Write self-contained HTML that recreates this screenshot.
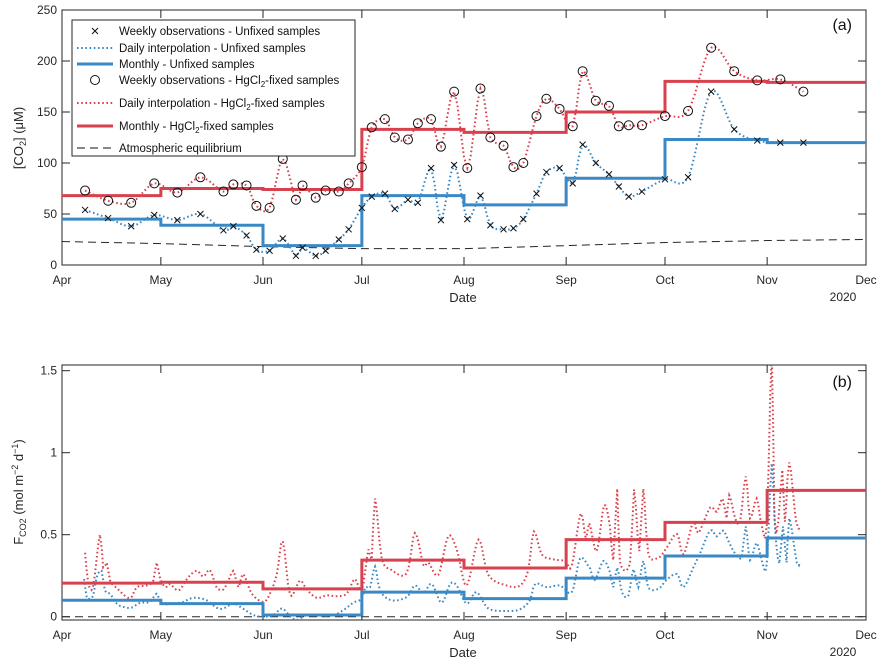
<!DOCTYPE html>
<html><head><meta charset="utf-8"><style>
html,body{margin:0;padding:0;background:#fff;}
svg{display:block;font-family:"Liberation Sans",Arial,sans-serif;}
</style></head><body>
<svg id="chart" width="889" height="666" viewBox="0 0 889 666" xmlns="http://www.w3.org/2000/svg">
<defs>
<clipPath id="clipA"><rect x="62" y="10" width="804" height="255"/></clipPath>
<clipPath id="clipB"><rect x="62" y="365" width="804" height="255"/></clipPath>
</defs>
</svg>
<script>
// ---------- DATA ----------
const monthLabels = ["Apr","May","Jun","Jul","Aug","Sep","Oct","Nov","Dec"];
const monthStartDays = [0,30,61,91,122,153,183,214,244];
const yTicksA = [0,50,100,150,200,250];
const yTicksB = [0,0.5,1,1.5];
const yTickLabelsB = ["0","0.5","1","1.5"];
const obsDays = [7,14,21,28,35,42,49,52,56,59,63,67,71,73,77,80,84,87,91,94,98,101,105,108,112,115,119,123,127,130,134,137,140,144,147,151,155,158,162,166,169,172,176,183,190,197,204,211,218,225];
const obsUnfixed = [54,46,38,49,44,50,34,38,29,15,14,26,9,17,9,14,25,35,56,67,70,55,64,61,95,44,98,45,68,39,35,36,45,70,91,95,80,118,100,89,77,67,72,84,86,170,133,122,120,120];
const obsFixed = [73,63,61,80,71,86,72,79,78,58,56,104,64,78,66,73,72,80,96,135,143,125,123,139,143,116,170,95,173,125,117,96,100,146,163,153,136,190,161,156,136,137,137,146,151,213,190,181,182,170];
const monthlyUnfixed = [45,39,19,68,59,85,123,120];
const monthlyFixed = [68,75,74,133,130,150,180,179];
const atmEquilibrium = [23,21,18,16,16,19,22,24,25];
const fluxMonthlyUnfixed = [0.10,0.08,0.01,0.15,0.11,0.235,0.37,0.48];
const fluxMonthlyFixed = [0.205,0.21,0.17,0.345,0.297,0.47,0.575,0.77];
const fluxDailyFixed = [[7,0.39],[8,0.20],[9.5,0.19],[11.5,0.50],[12.5,0.30],[13.6,0.33],[14.6,0.22],[16.6,0.175],[19.6,0.12],[21.1,0.12],[22.7,0.18],[25.7,0.19],[27.7,0.22],[28.7,0.33],[29.7,0.24],[31.3,0.18],[32.8,0.20],[34.3,0.17],[35.8,0.165],[38.3,0.24],[40.9,0.28],[42.9,0.245],[44.9,0.285],[46.9,0.18],[48.9,0.165],[50.5,0.22],[52,0.28],[53.5,0.18],[55,0.26],[57.6,0.14],[61.1,0.09],[63.1,0.14],[65.2,0.26],[67,0.46],[69.2,0.135],[72.2,0.22],[74.3,0.165],[77.3,0.115],[80.3,0.13],[83.4,0.125],[86.4,0.14],[88.9,0.23],[91,0.16],[93,0.41],[94,0.35],[95,0.72],[97,0.36],[100,0.285],[104.6,0.265],[107.1,0.51],[109.7,0.315],[111.2,0.33],[114.2,0.255],[117.2,0.49],[119.8,0.41],[122.8,0.19],[126.4,0.47],[129.4,0.255],[135,0.19],[139,0.19],[141.5,0.285],[143.2,0.52],[145.6,0.38],[149.1,0.35],[152.7,0.34],[154.7,0.31],[157.4,0.63],[159,0.47],[160,0.57],[162.3,0.40],[164.5,0.68],[166.3,0.55],[167.3,0.345],[168.5,0.78],[169.3,0.34],[172.4,0.33],[173.6,0.775],[175.2,0.40],[176.4,0.78],[177.9,0.39],[181,0.36],[183.5,0.42],[186.6,0.505],[188.6,0.38],[191.6,0.58],[193.1,0.51],[196.7,0.665],[198.7,0.64],[200.5,0.72],[201.7,0.60],[202.5,0.74],[204.3,0.60],[205.8,0.58],[207.5,0.855],[208.8,0.60],[210.8,0.72],[212.3,0.56],[213.9,0.56],[215.4,1.6],[216.2,0.60],[217.4,0.58],[218.6,0.895],[219.4,0.58],[220.7,0.94],[222.8,0.58],[224.5,0.53]];
const fluxDailyUnfixed = [[6.7,0.23],[7.5,0.12],[8.5,0.11],[9.5,0.13],[10.5,0.24],[12,0.28],[13,0.16],[14.6,0.14],[16.6,0.08],[18.6,0.06],[21.1,0.055],[23.7,0.085],[26.7,0.09],[28.7,0.14],[30.2,0.08],[33.8,0.08],[36.8,0.09],[38.8,0.11],[40.9,0.115],[43.9,0.10],[46.9,0.055],[48.9,0.05],[52,0.08],[54.5,0.055],[58.1,0.01],[61.1,0.0],[64.2,0.01],[66.7,0.05],[69.2,0.005],[71.2,-0.02],[74.3,0.01],[78.3,0.005],[82.4,0.01],[85.4,0.04],[88.4,0.085],[91,0.11],[92,0.18],[93.5,0.18],[95,0.305],[96.5,0.16],[100,0.10],[104.6,0.12],[107.1,0.19],[109.7,0.145],[112.2,0.20],[115.2,0.085],[117.8,0.20],[119.8,0.19],[122.8,0.08],[125.8,0.15],[129.4,0.05],[135,0.035],[139,0.045],[142,0.10],[143.6,0.20],[147.1,0.18],[151.1,0.19],[154.7,0.15],[157.2,0.355],[159.7,0.31],[160.2,0.30],[161.7,0.225],[164.3,0.34],[166.3,0.27],[167.3,0.18],[168.5,0.30],[169.9,0.15],[171.9,0.13],[173.4,0.29],[174.9,0.18],[176.4,0.34],[177.9,0.18],[181,0.17],[183.5,0.225],[186.6,0.26],[188.6,0.18],[191.6,0.30],[193.6,0.385],[196.7,0.525],[198.7,0.49],[200.7,0.525],[202.5,0.45],[204.3,0.385],[206.3,0.365],[207.5,0.55],[208.8,0.345],[210.8,0.45],[212.6,0.325],[213.9,0.325],[215.4,0.935],[216.4,0.53],[217.7,0.325],[218.8,0.55],[219.9,0.33],[220.7,0.6],[223,0.33],[224,0.33]];

// ---------- SCALES ----------
const X0 = 62, X1 = 866, TOTAL = 244;
function xDay(d){ return X0 + d*(X1-X0)/TOTAL; }
function yA(v){ return 265 - v*255/250; }
function yB(v){ return 616.7 - v*164; }

const BLUE = "#3a89c4", RED = "#d8414e";
const NS = "http://www.w3.org/2000/svg";
const svg = document.getElementById("chart");
function mk(tag, attrs, parent){
  const e = document.createElementNS(NS, tag);
  for (const k in attrs) e.setAttribute(k, attrs[k]);
  (parent||svg).appendChild(e);
  return e;
}

function catmull(pts, step){
  let out = [];
  for (let i=0;i<pts.length-1;i++){
    const p0 = pts[Math.max(0,i-1)], p1 = pts[i], p2 = pts[i+1], p3 = pts[Math.min(pts.length-1,i+2)];
    const n = Math.max(2, Math.round((p2[0]-p1[0])/step));
    for (let k=0;k<n;k++){
      const t=k/n, t2=t*t, t3=t2*t;
      const f = (a,b,c,d)=>0.5*((2*b)+(-a+c)*t+(2*a-5*b+4*c-d)*t2+(-a+3*b-3*c+d)*t3);
      out.push([f(p0[0],p1[0],p2[0],p3[0]), f(p0[1],p1[1],p2[1],p3[1])]);
    }
  }
  out.push(pts[pts.length-1]);
  return out;
}

function axesFrame(top, bottom, yTicks, yLabels, yScale, prefix){
  const g = mk("g", {});
  
  
  const box = mk("rect", {x:X0, y:top, width:X1-X0, height:bottom-top, fill:"none", stroke:"#262626", "stroke-width":1}, g);
  
  
  monthStartDays.forEach((d,i)=>{
    const x = xDay(d);
    mk("line", {x1:x, x2:x, y1:bottom, y2:bottom-8, stroke:"#262626"}, g);
    mk("line", {x1:x, x2:x, y1:top, y2:top+8, stroke:"#262626"}, g);
    const t = mk("text", {x:x, y:bottom+19, "text-anchor":"middle", "font-size":12, fill:"#262626"}, g);
    t.textContent = monthLabels[i];
    
    
  });
  yTicks.forEach((v,i)=>{
    const y = yScale(v);
    mk("line", {x1:X0, x2:X0+8, y1:y, y2:y, stroke:"#262626"}, g);
    mk("line", {x1:X1, x2:X1-8, y1:y, y2:y, stroke:"#262626"}, g);
    const t = mk("text", {x:X0-5, y:y+4, "text-anchor":"end", "font-size":12, fill:"#262626"}, g);
    t.textContent = yLabels[i];
    
    
  });
  const yr = mk("text", {x:843, y:bottom+36, "text-anchor":"middle", "font-size":12, fill:"#262626"}, g);
  yr.textContent = "2020";
  
  
  const xl = mk("text", {x:463, y:bottom+37, "text-anchor":"middle", "font-size":13, fill:"#262626"}, g);
  xl.textContent = "Date";
  
  
}

function stepPath(vals, yScale){
  let d = "";
  vals.forEach((v,i)=>{
    const xa = xDay(monthStartDays[i]), xb = xDay(monthStartDays[i+1]), y = yScale(v);
    d += (i===0 ? "M" : "L") + xa + "," + y + " L" + xb + "," + y + " ";
  });
  return d;
}
function polyPath(pts, yScale){
  return pts.map((p,i)=>(i?"L":"M")+xDay(p[0]).toFixed(2)+","+yScale(p[1]).toFixed(2)).join(" ");
}

// ---------- PANEL A ----------
axesFrame(10, 265, yTicksA, yTicksA.map(String), yA, "panel-a");
const gA = mk("g", {"clip-path":"url(#clipA)"});



const atmA = mk("path", {d: atmEquilibrium.map((v,i)=>(i?"L":"M")+xDay(monthStartDays[i])+","+yA(v)).join(" "), fill:"none", stroke:"#262626", "stroke-width":1, "stroke-dasharray":"8 5"}, gA);



const ptsU = obsDays.map((d,i)=>[d, obsUnfixed[i]]);
const ptsF = obsDays.map((d,i)=>[d, obsFixed[i]]);
const dailyU = mk("path", {d: polyPath(catmull(ptsU, 1), yA), fill:"none", stroke:BLUE, "stroke-width":2, "stroke-dasharray":"1.6 2.6"}, gA);


const dailyF = mk("path", {d: polyPath(catmull(ptsF, 1), yA), fill:"none", stroke:RED, "stroke-width":2, "stroke-dasharray":"1.6 2.6"}, gA);



const monU = mk("path", {d: stepPath(monthlyUnfixed, yA), fill:"none", stroke:BLUE, "stroke-width":3}, gA);


const monF = mk("path", {d: stepPath(monthlyFixed, yA), fill:"none", stroke:RED, "stroke-width":3}, gA);



obsDays.forEach((d,i)=>{
  const x = xDay(d), y = yA(obsUnfixed[i]);
  const m = mk("path", {d:`M${x-3},${y-3}L${x+3},${y+3}M${x-3},${y+3}L${x+3},${y-3}`, stroke:"#111", "stroke-width":1, fill:"none"}, gA);
  
  
});
obsDays.forEach((d,i)=>{
  const c = mk("circle", {cx:xDay(d), cy:yA(obsFixed[i]), r:4.5, fill:"none", stroke:"#111", "stroke-width":1}, gA);
  
  
});

// ---------- PANEL B ----------
axesFrame(365, 620, yTicksB, yTickLabelsB, yB, "panel-b");
const gB = mk("g", {"clip-path":"url(#clipB)"});


const atmB = mk("line", {x1:X0, x2:X1, y1:yB(0), y2:yB(0), stroke:"#262626", "stroke-width":1, "stroke-dasharray":"8 5"}, gB);


const fdU = mk("path", {d: polyPath(catmull(fluxDailyUnfixed, 0.5), yB), fill:"none", stroke:BLUE, "stroke-width":2, "stroke-dasharray":"1.6 2.6"}, gB);


const fdF = mk("path", {d: polyPath(catmull(fluxDailyFixed, 0.5), yB), fill:"none", stroke:RED, "stroke-width":2, "stroke-dasharray":"1.6 2.6"}, gB);


const fmU = mk("path", {d: stepPath(fluxMonthlyUnfixed, yB), fill:"none", stroke:BLUE, "stroke-width":3}, gB);


const fmF = mk("path", {d: stepPath(fluxMonthlyFixed, yB), fill:"none", stroke:RED, "stroke-width":3}, gB);



// ---------- LABELS ----------
const la = mk("text", {x:852, y:30, "text-anchor":"end", "font-size":16, fill:"#111"});
la.textContent = "(a)";


const lb = mk("text", {x:852, y:387, "text-anchor":"end", "font-size":16, fill:"#111"});
lb.textContent = "(b)";



const yta = mk("text", {transform:"translate(23,138) rotate(-90)", "text-anchor":"middle", "font-size":13, fill:"#262626"});


yta.innerHTML = '[CO<tspan font-size="9" dy="3">2</tspan><tspan dy="-3">] (μM)</tspan>';
const ytb = mk("text", {transform:"translate(23,492) rotate(-90)", "text-anchor":"middle", "font-size":13, fill:"#262626"});


ytb.innerHTML = 'F<tspan font-size="9" dy="3">CO2</tspan><tspan dy="-3"> (mol m</tspan><tspan font-size="9" dy="-5">−2</tspan><tspan dy="5"> d</tspan><tspan font-size="9" dy="-5">−1</tspan><tspan dy="5">)</tspan>';

// ---------- LEGEND ----------
const lg = mk("g", {});


mk("rect", {x:72, y:20, width:283, height:136, fill:"#fff", stroke:"#262626", "stroke-width":1}, lg);
const legendRows = [31,48,64,80,103,126,148];
const legendTexts = [
  'Weekly observations - Unfixed samples',
  'Daily interpolation - Unfixed samples',
  'Monthly - Unfixed samples',
  'Weekly observations - HgCl<tspan font-size="8" dy="3">2</tspan><tspan dy="-3">-fixed samples</tspan>',
  'Daily interpolation - HgCl<tspan font-size="8" dy="3">2</tspan><tspan dy="-3">-fixed samples</tspan>',
  'Monthly - HgCl<tspan font-size="8" dy="3">2</tspan><tspan dy="-3">-fixed samples</tspan>',
  'Atmospheric equilibrium'
];
legendRows.forEach((y,i)=>{
  const e = mk("g", {}, lg);
  
  
  if (i===0) mk("path", {d:`M92,${y-3}L98,${y+3}M92,${y+3}L98,${y-3}`, stroke:"#111", "stroke-width":1}, e);
  if (i===1) mk("line", {x1:77, x2:113, y1:y, y2:y, stroke:BLUE, "stroke-width":2, "stroke-dasharray":"1.6 2.6"}, e);
  if (i===2) mk("line", {x1:77, x2:113, y1:y, y2:y, stroke:BLUE, "stroke-width":3}, e);
  if (i===3) mk("circle", {cx:95, cy:y, r:4.5, fill:"none", stroke:"#111"}, e);
  if (i===4) mk("line", {x1:77, x2:113, y1:y, y2:y, stroke:RED, "stroke-width":2, "stroke-dasharray":"1.6 2.6"}, e);
  if (i===5) mk("line", {x1:77, x2:113, y1:y, y2:y, stroke:RED, "stroke-width":3}, e);
  if (i===6) mk("line", {x1:77, x2:113, y1:y, y2:y, stroke:"#111", "stroke-width":1, "stroke-dasharray":"8 5"}, e);
  const t = mk("text", {x:119, y:y+4, "font-size":11.5, fill:"#111"}, e);
  t.innerHTML = legendTexts[i];
});
</script>
</body></html>
